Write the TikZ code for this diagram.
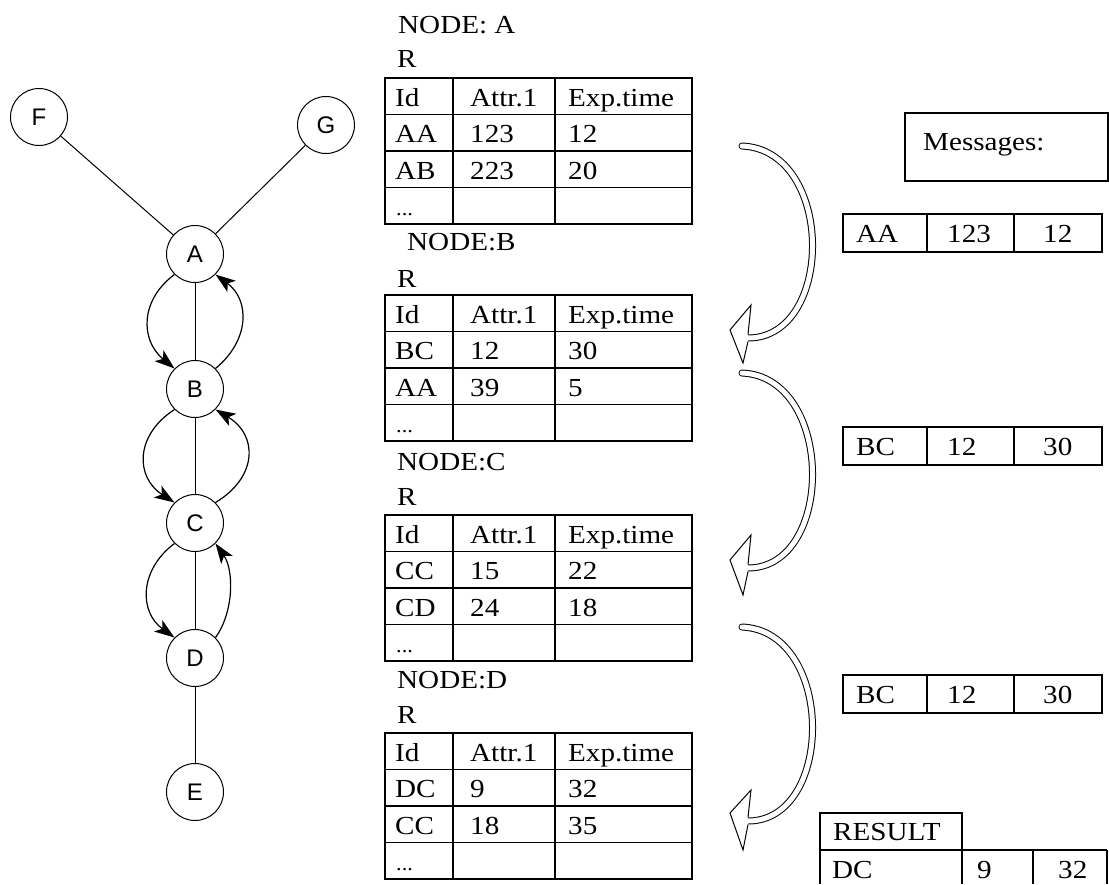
\documentclass[tikz,border=0pt]{standalone}
\usepackage{fontspec}
\setmainfont{Liberation Serif}
\newfontfamily\tabfont[FakeStretch=1.12]{Liberation Serif}
\newfontfamily\circfont{Liberation Sans}
\usetikzlibrary{arrows.meta}

\newcommand{\rtab}[8]{%
  \draw[grid] (385,#1) rectangle (692,#1+146);
  \foreach \k in {1,2,3} \draw[grid] (385,#1+36.5*\k) -- (692,#1+36.5*\k);
  \draw[grid] (453,#1) -- (453,#1+146);
  \draw[grid] (555,#1) -- (555,#1+146);
  \node[txt] (#8h1) at (395,#1+28) {Id};
  \node[txt] (#8h2) at (470,#1+28) {Attr.1};
  \node[txt] (#8h3) at (568,#1+28) {Exp.time};
  \node[txt] (#8a1) at (395,#1+64.5) {#2};
  \node[txt] (#8a2) at (470,#1+64.5) {#3};
  \node[txt] (#8a3) at (568,#1+64.5) {#4};
  \node[txt] (#8b1) at (395,#1+101) {#5};
  \node[txt] (#8b2) at (470,#1+101) {#6};
  \node[txt] (#8b3) at (568,#1+101) {#7};
  \node[dots] (#8c1) at (396,#1+137.5) {...};
}
\newcommand{\mrow}[5]{%
  \draw[grid] (843,#1) rectangle (1102,#1+38);
  \draw[grid] (927,#1) -- (927,#1+38);
  \draw[grid] (1014,#1) -- (1014,#1+38);
  \node[txt] (#5a) at (856,#1+28) {#2};
  \node[txt] (#5b) at (947,#1+28) {#3};
  \node[txt] (#5c) at (1043,#1+28) {#4};
}

\begin{document}
\begin{tikzpicture}[x=1pt,y=-1pt,
  vtx/.style={circle,draw,line width=1pt,minimum size=57pt,inner sep=0pt,fill=white,
    font=\circfont\fontsize{24}{24}\selectfont},
  txt/.style={anchor=base west,inner sep=0pt,font=\tabfont\fontsize{26}{30}\selectfont},
  dots/.style={anchor=base west,inner sep=0pt,font=\tabfont\fontsize{20}{24}\selectfont},
  grid/.style={line width=1.2pt},
  edge/.style={line width=1pt},
  flow/.style={-{Stealth[length=20pt,width=14pt,inset=5pt]},line width=1.2pt},
  hollow/.style={double=white,double distance=5pt,line width=1pt,line cap=round},
  headtip/.style={fill=white,draw=black,line width=1pt,line join=miter}]

\fill[white] (0,0) rectangle (1109,884);
\useasboundingbox (0,0) rectangle (1109,884);

% ---------- tree ----------
\node[vtx] (F) at (39,117) {F};
\node[vtx] (G) at (326,125) {G};
\node[vtx] (A) at (195,254) {A};
\node[vtx] (B) at (195,389) {B};
\node[vtx] (C) at (195,523) {C};
\node[vtx] (D) at (195,658) {D};
\node[vtx] (E) at (195,792) {E};

\draw[edge] (F) -- (A);
\draw[edge] (G) -- (A);
\draw[edge] (A) -- (B);
\draw[edge] (B) -- (C);
\draw[edge] (C) -- (D);
\draw[edge] (D) -- (E);

\draw[flow] (A.225) .. controls (140,300) and (140,340) .. (B.135);
\draw[flow] (B.45) .. controls (250,340) and (250,300) .. (A.-45);
\draw[flow] (B.225) .. controls (135,435) and (135,477) .. (C.135);
\draw[flow] (C.45) .. controls (258,477) and (258,435) .. (B.-45);
\draw[flow] (C.225) .. controls (139,570) and (139,612) .. (D.135);
\draw[flow] (D.45) .. controls (234,612) and (234,570) .. (C.-45);

% ---------- tables ----------
\node[txt] (nA) at (398,33) {NODE: A};
\node[txt] (rA) at (397,67) {R};
\rtab{78}{AA}{123}{12}{AB}{223}{20}{tA}

\node[txt] (nB) at (407,250) {NODE:B};
\node[txt] (rB) at (397,287) {R};
\rtab{295}{BC}{12}{30}{AA}{39}{5}{tB}

\node[txt] (nC) at (397,470) {NODE:C};
\node[txt] (rC) at (397,505) {R};
\rtab{515}{CC}{15}{22}{CD}{24}{18}{tC}

\node[txt] (nD) at (397,688) {NODE:D};
\node[txt] (rD) at (397,723) {R};
\rtab{733}{DC}{9}{32}{CC}{18}{35}{tD}

% ---------- hollow arrows ----------
\coordinate (s1) at (742,146);
\coordinate (e1) at (748,338);
\draw[hollow] (s1) .. controls (835,150) and (835,338) .. (e1);
\filldraw[headtip] (748,334.5) -- (751,305) -- (730,330) -- (743,363) -- (748,341.5);

\coordinate (s2) at (742,373);
\coordinate (e2) at (748,568);
\draw[hollow] (s2) .. controls (835,377) and (835,568) .. (e2);
\filldraw[headtip] (748,564.5) -- (751,535) -- (730,560) -- (743,595) -- (748,571.5);

\coordinate (s3) at (742,627);
\coordinate (e3) at (748,821);
\draw[hollow] (s3) .. controls (835,631) and (835,821) .. (e3);
\filldraw[headtip] (748,817.5) -- (751,790) -- (730,813) -- (743,850) -- (748,824.5);

% ---------- messages ----------
\draw[grid] (905,113) rectangle (1108,181);
\node[txt] (msg) at (923,150) {Messages:};
\mrow{214}{AA}{123}{12}{m1}
\mrow{427}{BC}{12}{30}{m2}
\mrow{675}{BC}{12}{30}{m3}

% ---------- result ----------
\draw[grid] (820,813) rectangle (962,850);
\node[txt] (res) at (833,840) {RESULT};
\draw[grid] (820,850) -- (1107,850);
\draw[grid] (820,850) -- (820,884);
\draw[grid] (962,850) -- (962,884);
\draw[grid] (1033,850) -- (1033,884);
\draw[grid] (1107,850) -- (1107,884);
\node[txt] (r1) at (832,878) {DC};
\node[txt] (r2) at (977,878) {9};
\node[txt] (r3) at (1058,878) {32};
\end{tikzpicture}
\end{document}
